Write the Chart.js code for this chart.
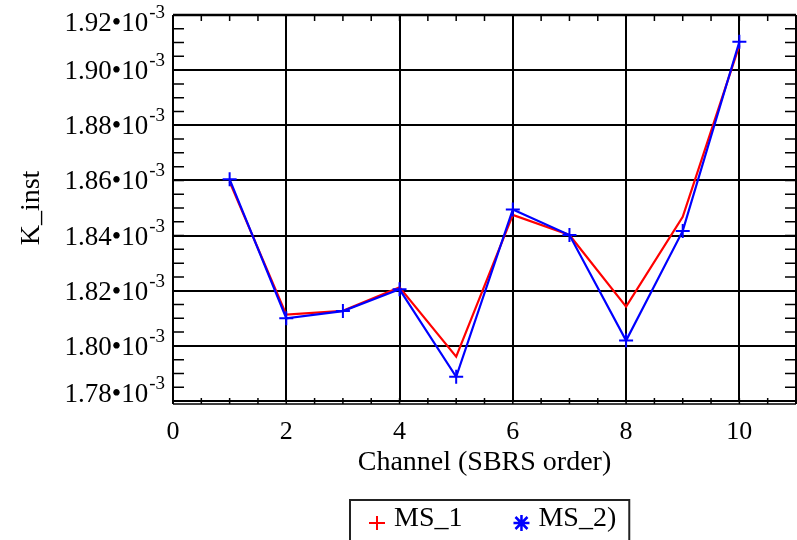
<!DOCTYPE html>
<html>
<head>
<meta charset="utf-8">
<script src="https://cdn.jsdelivr.net/npm/chart.js@4"></script>
<style>
  html, body { margin: 0; padding: 0; background: #fff; overflow: hidden; }
  canvas { display: block; }
</style>
</head>
<body>
<canvas id="chart" width="805" height="540"></canvas>
<script>
// channel index (SBRS order)
const channels = [1, 2, 3, 4, 5, 6, 7, 8, 9, 10];
// K_inst values
const ms1 = [1.8595e-3, 1.8113e-3, 1.8127e-3, 1.8212e-3, 1.7961e-3, 1.8475e-3, 1.8402e-3, 1.8142e-3, 1.8468e-3, 1.9090e-3];
const ms2 = [1.8604e-3, 1.8100e-3, 1.8126e-3, 1.8205e-3, 1.7888e-3, 1.8495e-3, 1.8402e-3, 1.8019e-3, 1.8417e-3, 1.9103e-3];
const seriesNames = ['MS_1', 'MS_2)'];
const xTicks = [0, 2, 4, 6, 8, 10];
const yTicks = [1.78e-3, 1.80e-3, 1.82e-3, 1.84e-3, 1.86e-3, 1.88e-3, 1.90e-3, 1.92e-3];

const SERIF = "'Liberation Serif', 'Times New Roman', serif";

const toPoints = (ys) => ys.map((y, i) => ({ x: channels[i], y: y }));

// inner ticks, frame, y labels with superscript exponent, boxed legend
const mathcadLook = {
  id: 'mathcadLook',
  beforeDatasetsDraw(chart) {
    const { ctx, chartArea: a, scales: { x, y } } = chart;
    ctx.save();
    ctx.strokeStyle = '#000';
    ctx.lineWidth = 1.5;
    ctx.beginPath();
    for (let v = 0; v <= 11; v += 0.5) {
      const px = x.getPixelForValue(v);
      ctx.moveTo(px, a.bottom + 3); ctx.lineTo(px, a.bottom - 3);
      ctx.moveTo(px, a.top); ctx.lineTo(px, a.top + 6);
    }
    for (let v = 1.78; v <= 1.9201; v += 0.005) {
      const py = y.getPixelForValue(v * 1e-3);
      ctx.moveTo(a.left, py); ctx.lineTo(a.left + 11, py);
      ctx.moveTo(a.right, py); ctx.lineTo(a.right - 11, py);
    }
    ctx.stroke();
    // frame
    ctx.lineWidth = 2;
    ctx.beginPath();
    ctx.moveTo(a.left, a.top); ctx.lineTo(a.left, a.bottom + 3);
    ctx.moveTo(a.right, a.top); ctx.lineTo(a.right, a.bottom + 3);
    ctx.stroke();
    ctx.lineWidth = 2.5;
    ctx.beginPath();
    ctx.moveTo(a.left, a.top); ctx.lineTo(a.right, a.top);
    ctx.stroke();
    ctx.lineWidth = 1.3;
    ctx.beginPath();
    ctx.moveTo(a.left, a.bottom); ctx.lineTo(a.right, a.bottom);
    ctx.moveTo(a.left, a.bottom + 3); ctx.lineTo(a.right, a.bottom + 3);
    ctx.stroke();
    ctx.restore();
  },
  afterDraw(chart) {
    const { ctx, chartArea: a, scales: { y } } = chart;
    ctx.save();
    ctx.fillStyle = '#000';
    ctx.textBaseline = 'alphabetic';
    y.ticks.forEach((t) => {
      let yc = y.getPixelForValue(t.value);
      yc = Math.min(a.bottom - 8, Math.max(a.top + 7, yc));
      const right = a.left - 8;
      ctx.font = '19px ' + SERIF;
      ctx.textAlign = 'right';
      ctx.fillText('-3', right, yc - 4);
      const supW = ctx.measureText('-3').width;
      ctx.font = '27px ' + SERIF;
      ctx.fillText((t.value * 1e3).toFixed(2) + '\u202210', right - supW - 1, yc + 9);
    });

    // legend
    const ds = chart.data.datasets;
    ctx.font = '28px ' + SERIF;
    ctx.textAlign = 'left';
    const w1 = ctx.measureText(seriesNames[0]).width;
    const w2 = ctx.measureText(seriesNames[1]).width;
    const boxW = 27 + 17 + w1 + 59 + 17 + w2 + 13;
    const boxL = Math.round((a.left + a.right) / 2 + 5 - boxW / 2);
    const boxT = 500;
    ctx.strokeStyle = '#222';
    ctx.lineWidth = 2;
    ctx.strokeRect(boxL, boxT, boxW, 60);
    const my = 523;
    // MS_1 marker: plus
    let mx = boxL + 27;
    ctx.strokeStyle = ds[0].borderColor;
    ctx.lineWidth = 2;
    ctx.beginPath();
    ctx.moveTo(mx - 8, my); ctx.lineTo(mx + 8, my);
    ctx.moveTo(mx, my - 7); ctx.lineTo(mx, my + 7);
    ctx.stroke();
    ctx.fillText(seriesNames[0], mx + 17, 526);
    // MS_2 marker: asterisk
    mx = mx + 17 + w1 + 59;
    ctx.strokeStyle = ds[1].borderColor;
    ctx.lineWidth = 2.5;
    ctx.beginPath();
    ctx.moveTo(mx - 8, my); ctx.lineTo(mx + 8, my);
    ctx.moveTo(mx, my - 8); ctx.lineTo(mx, my + 8);
    ctx.moveTo(mx - 6, my - 6); ctx.lineTo(mx + 6, my + 6);
    ctx.moveTo(mx - 6, my + 6); ctx.lineTo(mx + 6, my - 6);
    ctx.stroke();
    ctx.fillText(seriesNames[1], mx + 17, 526);
    ctx.restore();
  }
};

const ctx = document.getElementById('chart').getContext('2d');
new Chart(ctx, {
  type: 'line',
  data: {
    datasets: [
      {
        label: seriesNames[0],
        data: toPoints(ms1),
        borderColor: '#ff0000',
        borderWidth: 2.2,
        pointRadius: 0,
        tension: 0,
        order: 2,
      },
      {
        label: seriesNames[1],
        data: toPoints(ms2),
        borderColor: '#0000ff',
        borderWidth: 2.2,
        pointStyle: 'cross',
        pointRadius: 7,
        pointBorderWidth: 2,
        pointBorderColor: '#0000ff',
        tension: 0,
        order: 1,
      },
    ],
  },
  options: {
    responsive: false,
    animation: false,
    devicePixelRatio: 1,
    layout: { padding: { top: 15, right: 6, bottom: 61, left: 0 } },
    plugins: { legend: { display: false }, tooltip: { enabled: false } },
    scales: {
      x: {
        type: 'linear',
        min: 0,
        max: 11,
        afterBuildTicks: (s) => { s.ticks = xTicks.map((v) => ({ value: v })); },
        afterFit: (s) => { s.height = 78; },
        grid: { color: '#000', lineWidth: 2, drawTicks: false },
        border: { display: false },
        ticks: { color: '#000', padding: 16, font: { family: SERIF, size: 26 } },
        title: {
          display: true,
          text: 'Channel (SBRS order)',
          color: '#000',
          font: { family: SERIF, size: 28 },
          padding: 0,
        },
      },
      y: {
        min: 1.78e-3,
        max: 1.92e-3,
        afterBuildTicks: (s) => { s.ticks = yTicks.map((v) => ({ value: v })); },
        afterFit: (s) => { s.width = 173; },
        grid: { color: '#000', lineWidth: 2, drawTicks: false },
        border: { display: false },
        ticks: { display: false },
        title: {
          display: true,
          text: 'K_inst',
          color: '#000',
          font: { family: SERIF, size: 28 },
          padding: { top: 15, bottom: 0 },
        },
      },
    },
  },
  plugins: [mathcadLook],
});
</script>
</body>
</html>
